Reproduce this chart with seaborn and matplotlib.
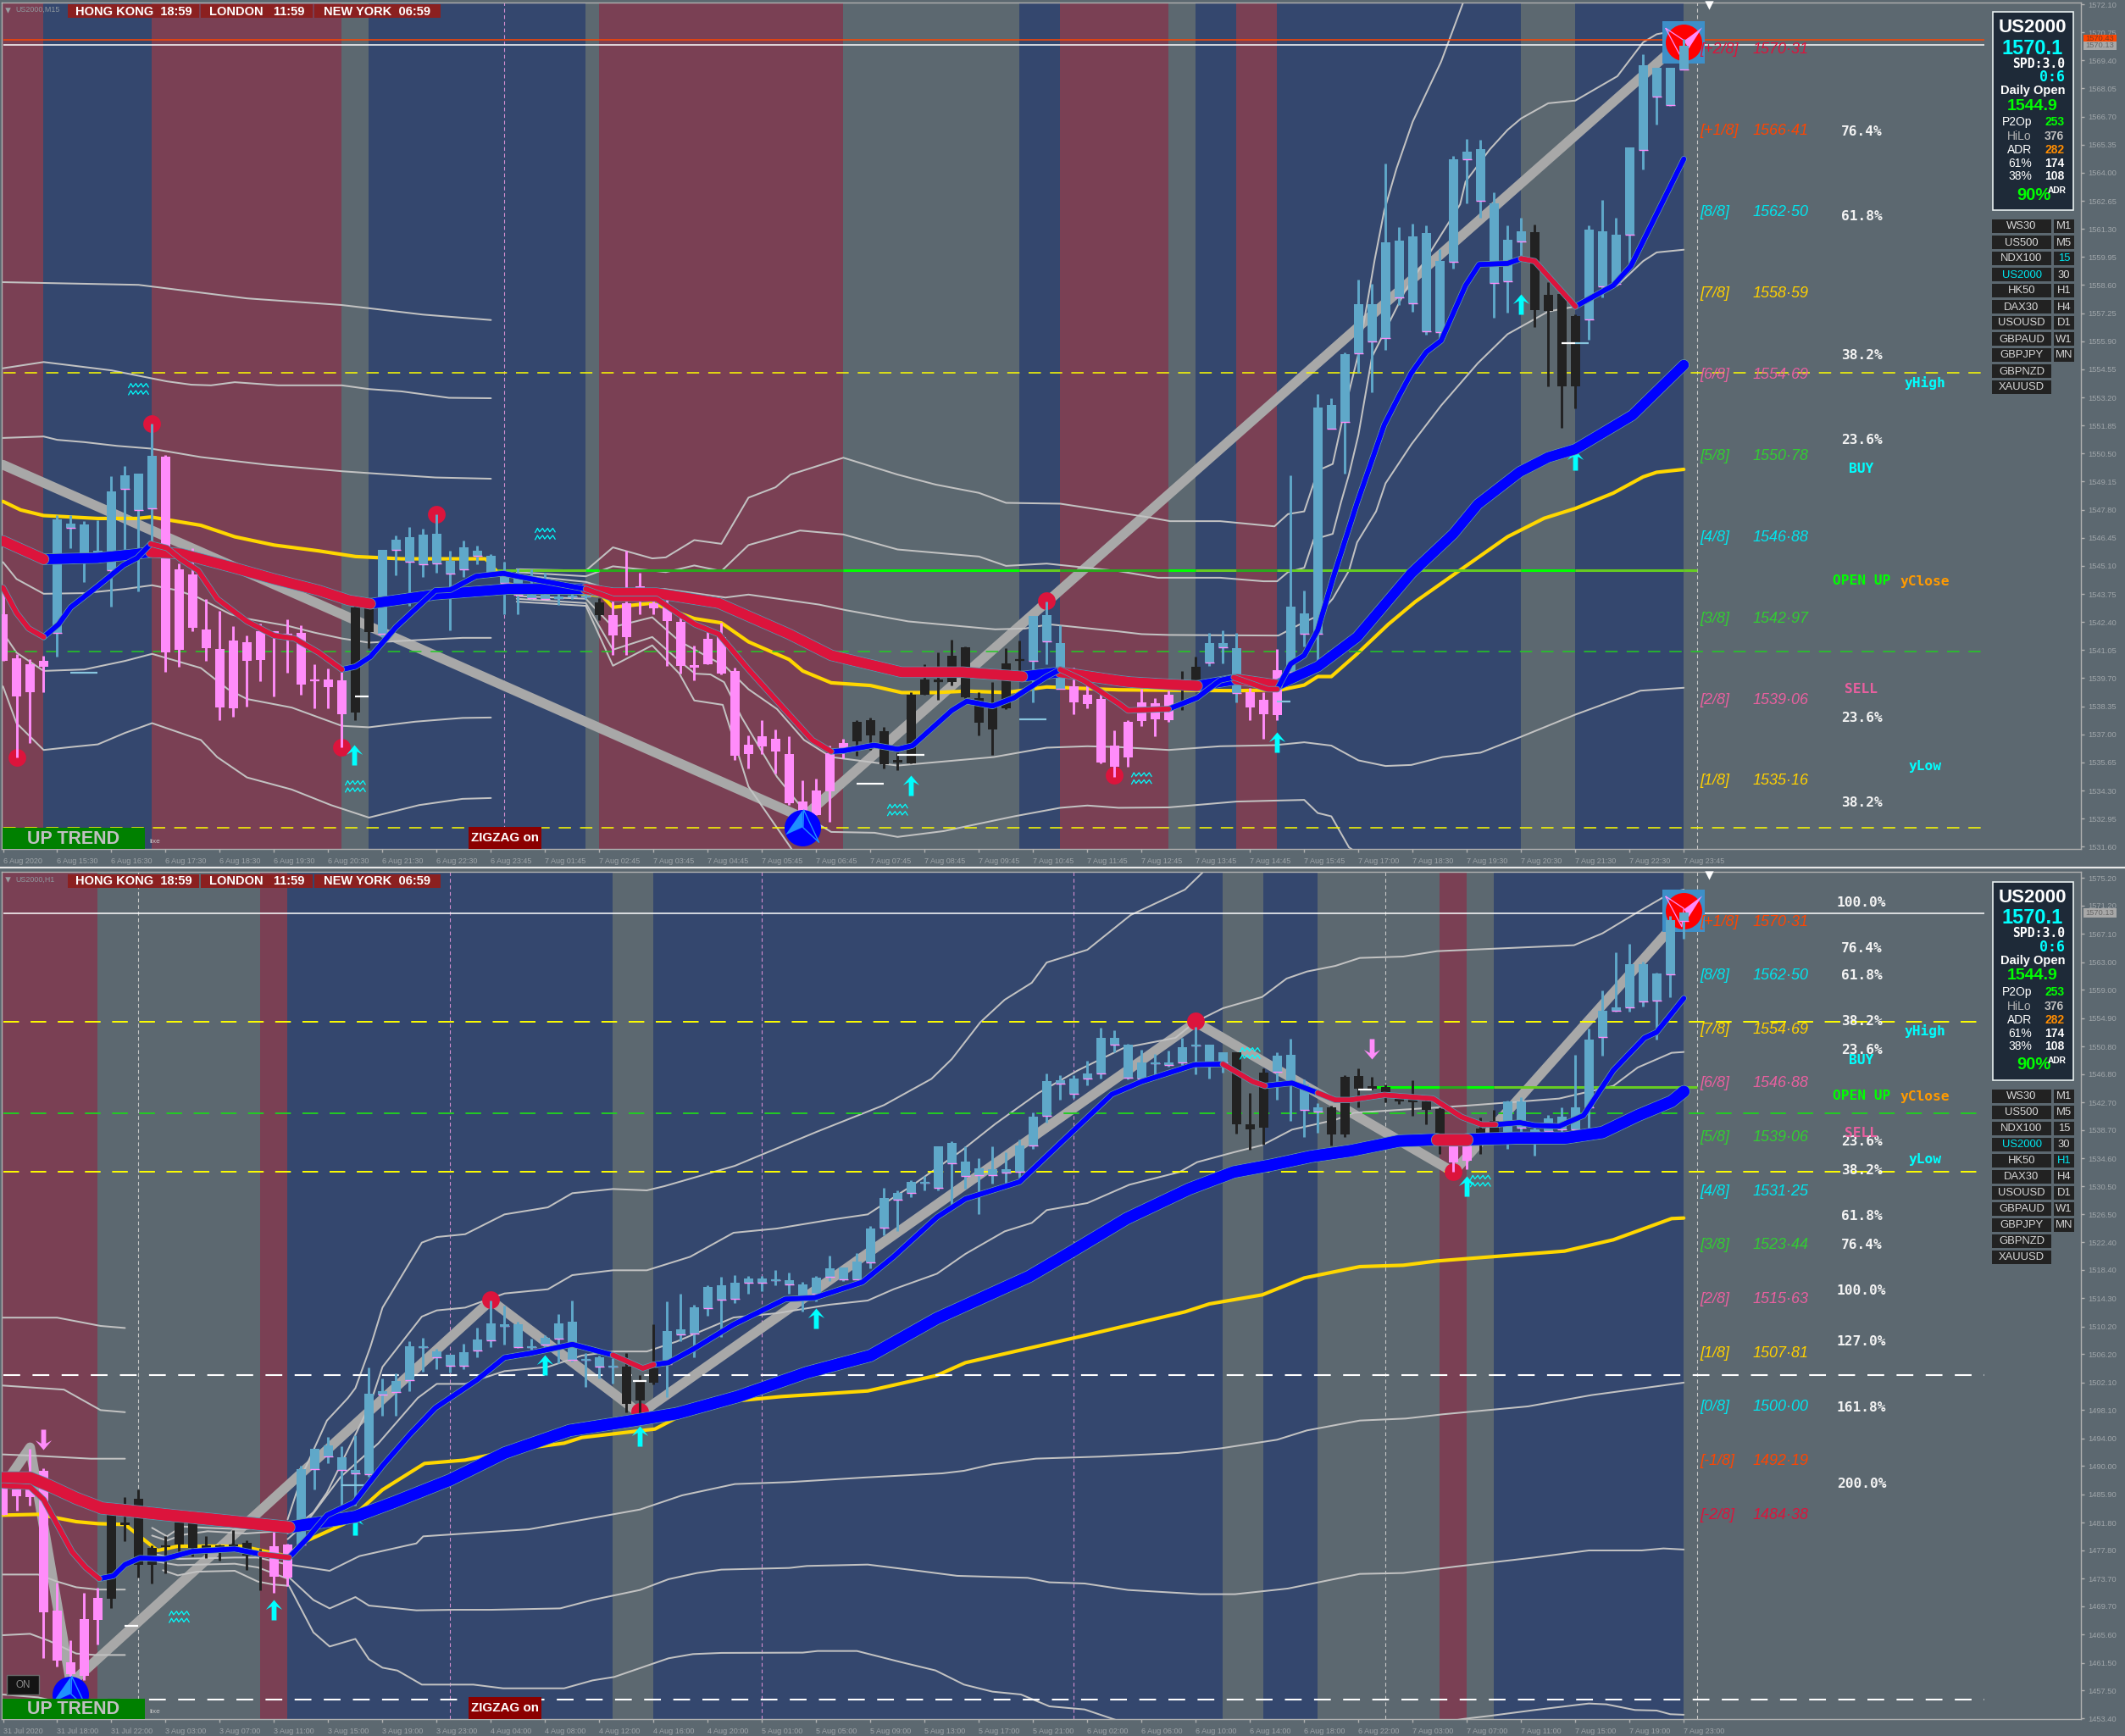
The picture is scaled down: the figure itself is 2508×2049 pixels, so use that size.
import numpy as np
import matplotlib
matplotlib.use("Agg")
import matplotlib.pyplot as plt
import matplotlib.patheffects as pe
from matplotlib.path import Path
from matplotlib.patches import Rectangle
from matplotlib import font_manager as fm
import seaborn as sns

W, H = 2508, 2049
BG = '#5c6870'; NAVY = '#34476e'; MAROON = '#7a4054'
PINK = '#ff8cfa'; SKY = '#5fa8c9'; BLACK = '#222222'
ENV = '#c2c2c2'; ZIG = '#a8a8a8'; CRIMSON = '#dc143c'; PURE = '#0000ff'; GOLD = '#ffd700'

sns.set_theme(style='dark', rc={'axes.facecolor': BG, 'figure.facecolor': BG})
names = {f.name for f in fm.fontManager.ttflist}
HAS_NARROW = 'Liberation Sans Narrow' in names
NARROW = 'Liberation Sans Narrow' if HAS_NARROW else 'Liberation Sans'
NS = 1.0 if HAS_NARROW else 0.84
SANS = 'Liberation Sans'
MONO = 'DejaVu Sans Mono'
plt.rcParams['font.family'] = [SANS, 'DejaVu Sans']

# ---------------------------------------------------------------- top panel (M15) candles
top_high = [1543.79,1540.87,1540.6,1540.77,1547.52,1547.56,1547.25,1547.29,1549.42,1549.9,
 1549.52,1551.93,1550.44,1545.21,1545.96,1543.52,1542.94,1542.2,1541.75,1542.32,
 1541.98,1542.53,1542.23,1540.36,1540.15,1540.01,1543.58,1543.11,1545.89,1546.57,
 1546.95,1546.88,1547.59,1545.82,1546.3,1546.07,1545.66,1545.28,1544.98,1544.94,
 1544.77,1544.06,1544.06,1544.06,1543.56,1543.52,1545.82,1544.77,1543.52,1543.45,
 1542.7,1541.28,1542.02,1542.36,1540.19,1536.93,1537.7,1537.23,1536.89,1534.79,
 1534.87,1536.48,1536.77,1537.68,1537.79,1537.34,1536.12,1539.03,1540.39,1540.94,
 1541.55,1541.23,1539.03,1539.51,1541.14,1541.5,1542.7,1543.38,1542.25,1540.19,
 1539.44,1539.03,1537.2,1537.68,1539.17,1538.76,1539.1,1540.04,1540.73,1541.89,
 1542.0,1541.86,1539.24,1539.03,1541.1,1549.46,1543.92,1553.36,1553.16,1555.38,
 1558.86,1558.66,1564.46,1561.39,1561.54,1561.46,1560.33,1564.79,1565.64,1565.6,
 1563.05,1561.46,1561.82,1561.5,1558.74,1558.16,1557.18,1561.46,1562.71,1561.85,
 1565.21,1569.68,1569.03,1569.06,1570.43]
top_body_hi = [1542.77,1540.66,1540.39,1540.53,1547.34,1547.12,1547.09,1545.82,1548.67,1549.45,
 1549.52,1550.41,1550.36,1544.93,1544.68,1542.06,1541.1,1541.51,1541.42,1541.95,
 1541.98,1541.82,1541.89,1539.63,1539.65,1539.58,1543.11,1543.11,1545.86,1546.37,
 1546.48,1546.6,1546.64,1545.33,1545.99,1545.82,1545.58,1544.6,1544.47,1543.72,
 1543.72,1543.65,1543.68,1543.65,1543.35,1542.73,1543.31,1544.13,1543.31,1543.11,
 1542.4,1540.35,1541.61,1541.68,1540.05,1536.5,1536.9,1536.78,1536.07,1533.79,
 1534.32,1536.11,1536.59,1537.61,1537.68,1537.16,1535.75,1538.9,1539.65,1539.65,
 1540.77,1541.18,1538.76,1538.29,1540.43,1540.62,1542.7,1542.74,1541.37,1539.31,
 1538.9,1538.7,1536.48,1537.61,1538.52,1538.49,1538.9,1539.6,1540.23,1541.41,
 1541.37,1541.14,1539.03,1538.65,1540.08,1543.14,1542.81,1552.73,1552.84,1555.28,
 1557.68,1557.69,1560.65,1560.73,1560.95,1561.11,1559.75,1564.66,1565.0,1565.13,
 1562.51,1560.76,1561.2,1561.14,1558.14,1558.16,1557.1,1561.26,1561.18,1561.01,
 1565.21,1569.15,1569.03,1569.06,1570.12]
top_body_lo = [1540.53,1538.83,1539.03,1540.26,1541.89,1546.91,1545.66,1545.69,1544.9,1548.81,
 1547.79,1547.86,1540.93,1541.07,1542.13,1541.14,1538.29,1538.25,1540.53,1540.57,
 1541.89,1541.78,1539.39,1539.6,1539.27,1537.98,1538.04,1541.93,1541.82,1545.88,
 1545.28,1545.18,1545.2,1544.71,1544.95,1545.59,1544.74,1544.3,1543.72,1543.56,
 1543.52,1543.56,1543.62,1543.61,1542.73,1541.75,1541.68,1544.03,1543.07,1542.43,
 1540.28,1540.22,1540.37,1539.94,1535.98,1536.05,1536.43,1536.18,1533.71,1533.2,
 1533.13,1534.26,1536.35,1536.66,1536.93,1535.55,1535.67,1535.61,1538.9,1539.55,
 1539.51,1538.79,1537.57,1537.23,1538.25,1540.56,1540.53,1541.48,1539.17,1538.52,
 1538.46,1535.64,1535.44,1535.88,1537.64,1537.74,1537.68,1539.55,1539.6,1540.46,
 1541.17,1538.97,1538.29,1537.95,1537.92,1539.99,1541.85,1541.82,1551.69,1552.03,
 1555.34,1555.9,1556.05,1557.99,1557.72,1556.37,1556.35,1559.7,1564.66,1562.67,
 1558.69,1558.8,1560.7,1557.41,1557.36,1553.75,1553.72,1556.93,1558.53,1558.66,
 1561.04,1565.11,1567.65,1567.26,1568.95]
top_low = [1540.53,1535.91,1536.59,1539.03,1540.73,1545.96,1544.33,1545.69,1543.15,1545.82,
 1543.89,1546.23,1540.0,1540.26,1541.95,1540.53,1537.68,1537.84,1538.33,1539.55,
 1538.83,1539.96,1538.9,1538.25,1538.25,1536.39,1537.68,1541.14,1541.68,1544.66,
 1543.18,1544.57,1544.76,1542.02,1544.57,1545.17,1544.74,1542.77,1542.77,1543.52,
 1543.52,1543.24,1543.52,1543.52,1542.5,1540.83,1540.8,1542.77,1542.77,1540.28,
 1539.92,1539.6,1540.37,1539.88,1535.78,1535.37,1536.05,1535.12,1533.6,1532.52,
 1533.13,1532.79,1535.84,1535.98,1536.25,1535.37,1535.26,1535.61,1538.9,1538.67,
 1539.35,1538.76,1536.97,1536.02,1538.22,1539.71,1538.52,1540.39,1539.17,1537.95,
 1538.25,1535.61,1534.96,1535.44,1537.41,1536.92,1537.6,1538.19,1539.6,1540.3,
 1540.42,1538.55,1537.68,1536.8,1537.68,1539.92,1541.23,1540.42,1551.69,1549.54,
 1554.37,1553.44,1555.49,1557.65,1557.3,1556.21,1556.06,1559.41,1562.51,1561.85,
 1557.05,1557.26,1559.83,1556.59,1553.72,1551.72,1552.66,1555.98,1557.99,1558.66,
 1559.44,1564.16,1566.33,1567.23,1568.95]
top_color_runs = [('p',4),('b',8),('p',14),('k',2),('b',16),('k',1),('p',18),('k',13),('b',3),
 ('p',8),('k',2),('b',3),('p',3),('b',18),('k',4),('b',8)]
top_band_edges = [-0.1,3,11,25,27,43,44,62,75,78,86,88,91,94,112,116,124]
top_band_kinds = ['m','n','m','g','n','g','m','g','n','m','g','n','m','n','g','n']

# ---------------------------------------------------------------- bottom panel (H1) candles
bot_high = [1486.85,1486.56,1492.5,1489.63,1473.06,1464.75,1471.62,1472.36,1483.08,1485.54,
 1486.64,1478.5,1479.81,1481.94,1481.77,1479.81,1478.58,1480.71,1479.2,1477.97,
 1480.42,1478.79,1490.04,1492.49,1494.21,1492.82,1494.46,1504.28,1502.72,1503.42,
 1508.13,1508.58,1507.02,1506.12,1507.72,1510.01,1513.98,1513.28,1510.91,1508.45,
 1508.99,1512.01,1513.98,1506.41,1506.0,1505.59,1506.41,1503.13,1510.5,1513.85,
 1515.0,1513.36,1516.23,1517.37,1517.66,1517.58,1517.58,1518.4,1517.99,1516.64,
 1517.54,1520.44,1518.77,1520.81,1524.74,1530.26,1529.94,1531.45,1532.07,1536.32,
 1537.02,1536.28,1534.56,1536.28,1535.46,1537.31,1541.19,1546.84,1546.64,1546.6,
 1548.76,1553.47,1553.14,1551.22,1550.28,1549.7,1550.2,1552.04,1553.67,1551.1,
 1549.99,1549.99,1544.06,1547.66,1549.99,1551.91,1546.02,1542.63,1542.22,1546.64,
 1547.66,1546.43,1545.29,1543.44,1545.9,1543.24,1542.01,1537.92,1537.72,1540.46,
 1541.6,1542.91,1543.44,1539.14,1540.91,1542.01,1549.58,1553.39,1558.91,1564.44,
 1565.66,1563.09,1561.45,1569.71,1570.16]
bot_body_hi = [1486.85,1486.56,1486.77,1489.3,1469.09,1461.52,1467.82,1470.89,1483.08,1481.85,
 1485.25,1478.17,1478.5,1481.85,1481.77,1478.5,1478.5,1478.58,1478.91,1477.56,
 1478.38,1478.58,1489.51,1492.49,1492.99,1491.27,1489.43,1500.47,1500.8,1502.31,
 1507.35,1507.35,1506.61,1506.12,1506.49,1508.33,1510.62,1510.5,1510.5,1507.39,
 1508.58,1510.62,1510.91,1505.51,1505.79,1504.52,1504.36,1502.31,1504.16,1509.56,
 1509.8,1512.95,1515.94,1516.23,1516.51,1517.17,1517.17,1517.05,1516.92,1516.35,
 1517.25,1518.6,1518.77,1519.58,1524.41,1528.83,1529.53,1531.17,1531.16,1536.32,
 1536.81,1534.11,1533.09,1533.01,1533.01,1536.49,1540.58,1545.78,1545.9,1546.19,
 1546.84,1552.04,1552.04,1551.01,1548.48,1548.48,1548.48,1550.69,1551.01,1551.1,
 1549.99,1549.99,1539.47,1547.0,1549.46,1549.58,1545.28,1542.01,1542.01,1546.43,
 1546.51,1545.0,1544.88,1543.24,1543.24,1542.83,1541.68,1536.49,1536.49,1538.94,
 1539.97,1542.83,1542.83,1538.74,1540.37,1540.62,1542.01,1551.83,1555.92,1556.42,
 1562.68,1562.68,1561.37,1569.1,1570.16]
bot_body_lo = [1482.88,1485.66,1485.46,1468.84,1461.8,1459.84,1459.55,1467.66,1470.81,1481.45,
 1475.63,1475.72,1478.34,1478.58,1478.17,1478.17,1478.17,1478.5,1477.03,1477.35,
 1474.0,1473.79,1478.58,1489.51,1491.35,1489.43,1488.89,1488.81,1500.39,1500.68,
 1502.44,1507.23,1505.75,1504.48,1504.53,1506.69,1508.17,1510.34,1507.23,1507.23,
 1507.63,1508.41,1505.38,1505.34,1504.36,1504.36,1499.04,1499.45,1502.11,1504.77,
 1509.07,1509.19,1512.87,1514.1,1514.18,1516.56,1516.56,1516.96,1516.31,1514.59,
 1515.0,1517.37,1517.05,1517.05,1519.5,1524.49,1528.59,1529.53,1531.1,1530.35,
 1533.91,1531.99,1532.19,1532.19,1532.48,1532.6,1536.49,1540.7,1545.37,1543.98,
 1546.19,1546.84,1551.01,1546.23,1546.19,1548.4,1548.07,1548.44,1550.89,1548.35,
 1548.48,1539.56,1538.82,1539.07,1547.09,1545.69,1541.6,1541.4,1538.0,1538.08,
 1544.67,1544.63,1544.14,1542.83,1542.75,1541.6,1537.92,1534.03,1534.24,1537.92,
 1538.0,1537.92,1539.06,1538.53,1538.53,1538.74,1538.74,1542.01,1552.12,1556.01,
 1556.42,1557.36,1557.44,1561.24,1569.02]
bot_low = [1482.88,1483.49,1484.31,1462.13,1460.99,1454.85,1458.94,1464.18,1469.37,1479.11,
 1473.79,1472.98,1474.41,1477.68,1476.94,1476.66,1476.25,1478.38,1474.9,1472.03,
 1471.62,1472.65,1478.38,1486.56,1490.45,1484.11,1484.31,1488.4,1497.32,1497.32,
 1500.8,1503.62,1504.07,1503.54,1504.07,1505.79,1507.23,1507.63,1507.1,1506.82,
 1507.02,1504.85,1505.18,1501.5,1502.73,1501.91,1497.73,1497.4,1501.78,1499.94,
 1508.04,1505.71,1511.81,1508.66,1513.57,1515.0,1515.29,1516.23,1515.0,1512.34,
 1513.85,1516.84,1516.84,1517.05,1518.68,1523.39,1524.08,1529.0,1529.98,1529.98,
 1527.77,1530.14,1526.46,1530.96,1530.96,1531.78,1535.96,1539.76,1543.12,1543.32,
 1545.2,1546.19,1549.99,1546.02,1546.02,1546.43,1547.82,1548.15,1546.72,1546.19,
 1547.05,1538.12,1535.87,1536.61,1543.12,1540.05,1537.72,1538.33,1536.49,1537.72,
 1542.01,1544.55,1542.75,1542.42,1540.78,1539.56,1535.26,1532.6,1533.01,1535.26,
 1537.51,1535.96,1538.33,1534.97,1538.33,1538.33,1538.53,1538.74,1549.5,1555.8,
 1555.84,1556.62,1551.75,1557.97,1566.36]
bot_color_runs = [('p',8),('k',12),('p',2),('b',24),('k',3),('b',42),('k',3),('b',4),('k',9),('p',2),('k',2),('b',14)]
bot_band_edges = [-0.1,7,19,21,45,48,90,93,97,106,108,110,124]
bot_band_kinds = ['m','g','m','n','g','n','g','n','g','m','g','n']

# ---------------------------------------------------------------- top panel lines
top_zig_x = [0,59,124]
top_zig_y = [1549.96,1533.0,1570.4]

top_z_x = [0,10,18,25,31,36]
top_z_y = [1558.74,1558.61,1557.96,1557.64,1557.18,1556.92]
top_a_x = [0,3,8,12.1,13.9,15.35,17.1,20.3,25,27,29.4,32.9,36]
top_a_y = [1554.6,1554.9,1554.5,1553.97,1553.81,1553.78,1553.93,1553.78,1553.78,1553.6,1553.49,1553.18,1553.16]
top_b_x = [0,3,4,6,8.4,10.9,14.6,19.5,25,27,31.9,36]
top_b_y = [1551.25,1551.32,1551.16,1551.05,1550.87,1550.74,1550.33,1549.96,1549.65,1549.56,1549.35,1549.29]
top_c_x = [0,1,3,6,9,11,12.9,14.4,16.8,18,21,23,25,27,30.2,33.9,36]
top_c_y = [1545.28,1544.47,1543.76,1543.79,1543.99,1544.17,1543.92,1543.58,1542.77,1542.56,1542.22,1541.89,1541.61,1541.41,1541.52,1541.64,1541.64]
top_d_x = [0,1,3,6,9,11,14.6,16.6,18,21.3,25,27,30.4,33.9,36]
top_d_y = [1541.89,1540.93,1540.05,1540.12,1540.53,1540.87,1540.19,1539.17,1538.7,1538.29,1537.41,1537.34,1537.61,1537.79,1537.81]
top_e_x = [0,1,3,5,7,9,11,14.6,15.8,18,21.3,24.2,27,30.7,33.9,36]
top_e_y = [1539.31,1537.54,1536.25,1536.39,1536.52,1537.07,1537.54,1536.73,1535.91,1534.93,1534.35,1533.6,1533.0,1533.6,1533.9,1533.94]

top_u3_x = [37.9,43,45,47.9,48.9,51,53,55,57,58.1,62,66,68.8,72,74,78,82.3,84.4,86.1,89.8,93.8,94.8,96,96.7,97,97.3,98.1,99,100,101.2,101.9,102.8,104,106.1,107.7,108.4]
top_u3_y = [1544.94,1544.87,1545.99,1545.46,1545.51,1546.34,1546.16,1548.38,1548.88,1549.49,1550.3,1549.49,1549.01,1548.61,1548.13,1548.09,1547.66,1547.45,1547.25,1547.25,1547.0,1547.59,1547.72,1549.08,1549.49,1549.77,1550.0,1552.66,1555.3,1559.83,1562.17,1564.19,1566.45,1569.34,1572.14,1573.5]
top_u2_x = [37.9,43,45,48.9,51,53,55,58.8,62,66,72,74,77,82.3,85.2,89.8,93,94,94.8,96,96.7,98.1,98.7,99.3,100,101,103.4,104.8,106.6,107.5,107.9,109.7,111,112,114,116,119.1,121,122,124]
top_u2_y = [1544.8,1544.6,1545.08,1544.8,1545.12,1544.85,1546.1,1546.8,1546.61,1545.89,1545.55,1545.1,1545.21,1544.85,1544.53,1544.53,1544.36,1544.36,1544.8,1545.01,1546.37,1546.64,1548.13,1549.49,1551.41,1555.15,1558.27,1559.67,1561.54,1562.48,1563.57,1565.13,1566.06,1566.61,1567.34,1567.47,1568.64,1570.27,1570.66,1570.9]
top_u1_x = [37.9,43,45,48.8,53.3,55,60.2,62.2,66.8,73.2,75.4,77.2,82.3,84,86,94.1,95.7,97,98.1,99.3,99.9,101.3,102,103.9,106.1,108.8,111,114,116,119.1,121,122,124]
top_u1_y = [1544.67,1544.33,1543.92,1543.99,1543.58,1543.72,1543.24,1542.97,1542.43,1542.05,1542.09,1542.29,1541.95,1541.82,1541.78,1541.75,1542.3,1542.7,1543.52,1544.87,1546.23,1547.72,1549.07,1550.94,1552.81,1554.84,1556.24,1557.33,1557.57,1558.58,1559.75,1560.17,1560.3]
top_l1_x = [37.9,43,45,47.9,49.9,53.3,55,57.1,59.1,61.1,66,73.1,77,80,82.3,86,89.8,93.8,96,98,100,102,103.9,106.2,109,111.9,116,120.8,124]
top_l1_y = [1543.65,1543.52,1542.16,1542.63,1541.48,1540.26,1539.17,1538.22,1536.73,1535.91,1535.5,1535.91,1536.36,1536.43,1536.39,1536.25,1536.43,1536.48,1536.62,1536.46,1535.75,1535.48,1535.53,1535.91,1536.12,1536.86,1537.95,1539.1,1539.24]
top_l2_x = [37.9,43,45,47.9,49.9,51.05,52.2,53.2,54.5,57.1,59.7,61.1,64.3,66,69.4,74.6,78,80,82.3,86,91,96,97,98,99.3,99.9]
top_l2_y = [1543.52,1543.31,1541.07,1541.68,1540.53,1539.92,1539.88,1539.51,1537.81,1534.96,1532.86,1532.31,1532.27,1532.07,1532.35,1533.06,1533.47,1533.58,1533.47,1533.49,1533.77,1533.85,1533.22,1533.06,1531.57,1531.3]
top_l3_x = [37.9,43,45,47.9,49.9,51,53.1,55,58.1,59.1]
top_l3_y = [1543.38,1543.18,1540.3,1541.28,1539.92,1538.63,1538.42,1534.49,1531.57,1530.5]

top_slow_x = [0,3,6.95,9.67,10.9,13.1,17.1,20,23.3,25.5,27.1,31.9,37.3,43,45,48.2,52.8,58,61.1,66.3,70.8,75.2,78,82.3,83.2,88.1,91,94,97,99.9,103.9,107,108.8,111.9,114,116,120.2,124]
top_slow_y = [1546.3,1545.42,1545.48,1545.66,1545.76,1545.69,1545.0,1544.47,1543.92,1543.45,1543.28,1543.72,1543.99,1543.99,1543.79,1543.79,1543.31,1541.82,1540.8,1539.99,1539.99,1539.78,1539.99,1539.58,1539.51,1539.33,1539.65,1539.37,1540.26,1541.68,1544.74,1546.64,1548.06,1549.62,1550.32,1550.71,1552.34,1554.76]
top_slow_red = [(0,3),(10.9,27.1),(43,75.2),(78,88.1),(91,94)]
top_fast_x = [0,1,1.9,3,4.1,5,7,8.9,9.9,10.9,12.1,13.1,14.4,15.8,18,20,21.5,23.3,25,26,27.1,29,31.9,33,34.9,36.9,38.5,40.15,43,45,48.2,49.9,51.05,52.8,55,58,59.7,61.1,62,64.25,66,67.1,70,71.1,73,74.6,77,78,79.75,82.3,83,86,88.1,89.8,90.8,93.3,94,95,96,97,98.1,99.9,101.9,103,103.9,105,106.1,107.9,108.9,111,112,113,116,118.8,120.1,124]
top_fast_y = [1544.06,1542.84,1542.09,1541.68,1542.29,1543.11,1544.13,1545.14,1545.48,1546.16,1545.96,1545.42,1544.87,1543.52,1542.43,1541.75,1541.61,1540.93,1540.12,1540.26,1540.73,1542.16,1543.92,1543.95,1544.6,1544.74,1544.53,1544.33,1543.99,1543.52,1543.52,1542.77,1542.29,1541.82,1540.12,1537.95,1536.73,1536.18,1536.21,1536.48,1536.29,1536.46,1538.15,1538.59,1538.36,1538.76,1539.78,1540.12,1539.58,1538.49,1538.15,1538.22,1538.76,1539.6,1539.74,1539.17,1539.17,1540.39,1540.8,1542.02,1544.47,1548.13,1551.88,1553.28,1554.37,1555.38,1555.93,1558.58,1559.59,1559.64,1559.87,1559.75,1557.57,1558.58,1559.52,1564.66]
top_fast_red = [(0,3),(10.9,25),(43,61.1),(78,86),(90.8,94),(112,116)]
top_yellow_x = [0,1.3,3,7,9.9,10.9,14.6,17.1,20,23.3,26,29.4,35.6,37.3,44.2,45,47.9,51,53,55,58,59,61.1,64,66.3,68.8,71.1,74,77,82.3,91,94.3,96,97,98,99.9,102.2,104.2,107.9,111,113.7,116,118.8,121,122,124]
top_yellow_y = [1548.2,1547.79,1547.52,1547.38,1547.38,1547.45,1547.05,1546.5,1546.1,1545.82,1545.55,1545.44,1545.44,1544.22,1543.65,1543.11,1543.31,1542.57,1542.36,1541.45,1540.6,1540.05,1539.48,1539.35,1539.01,1539.01,1539.08,1539.01,1539.28,1539.14,1539.1,1539.14,1539.37,1539.78,1539.78,1540.87,1542.29,1543.38,1545.08,1546.5,1547.39,1547.86,1548.6,1549.38,1549.6,1549.74]

# ---------------------------------------------------------------- bottom panel lines
bot_zig_x = [0,2,5,36,47,88,107,124]
bot_zig_y = [1487.0,1492.7,1458.5,1514.0,1497.6,1554.3,1532.6,1570.0]

bot_p_x = [0,4,7.2,9]; bot_p_y = [1511.5,1511.5,1510.3,1510.0]
bot_q_x = [0,4.5,7.2,9]; bot_q_y = [1501.66,1501.07,1498.1,1497.8]
bot_a_x = [0,2.6,6.5,9]; bot_a_y = [1491.68,1491.47,1491.06,1491.06]
bot_b_x = [0,2.6,4,5.4,7,9]; bot_b_y = [1474.28,1474.28,1473.26,1472.44,1472.1,1472.1]
bot_c_x = [0,2,3.4,5.4,6.8,9]; bot_c_y = [1465.49,1465.69,1464.67,1462.83,1462.62,1462.62]
bot_d_x = [0,2.6,3.5]; bot_d_y = [1456.89,1456.48,1456.07]
bot_c1_x = [11,12.1,13.2,15.1,17.9,21]; bot_c1_y = [1481.04,1479.81,1481.24,1481.04,1480.83,1481.86]
bot_c2_x = [11,12.1,13.2,15.1,17.9,21]; bot_c2_y = [1479.93,1479.2,1480.01,1480.55,1480.22,1480.63]
bot_c3_x = [11.4,12.9,17.1,18.8,21]; bot_c3_y = [1477.15,1476.54,1476.74,1476.74,1475.72]
bot_c4_x = [11.4,12.9,17.1,18.8,21]; bot_c4_y = [1476.13,1475.64,1475.84,1475.31,1473.67]
bot_c5_x = [11.8,12.9,14.3,17.1,18.8,19.9,21]; bot_c5_y = [1474.9,1474.16,1474.69,1474.82,1473.26,1472.85,1472.65]

bot_l1_x = [21,22.1,23.9,25.45,26,27.1,28,30.9,32,34.1,37,40.2,42,45,47.5,48.8,54,60,65,68.5,70,72.1,73.9,75.9,77,80,83.2,87.2,88.5]
bot_l1_y = [1482.26,1488.81,1496.59,1499.86,1501.29,1507.23,1512.95,1522.37,1523.18,1523.59,1526.46,1527.48,1529.53,1530.14,1529.94,1530.55,1533.5,1538.4,1542.3,1546.1,1548.97,1554.29,1557.56,1560.02,1562.96,1564.8,1569.84,1573.52,1576.0]
bot_l2_x = [21,22.9,23.9,26,27.1,28,30.9,32,34.1,37,40.2,42,45,47.5,50.7,53.9,57.1,60.9,63.8,65.7,67,70.7,73.2,76.4,79.3,82.7,86.5,87.9,90,92.9,94.7,96.2,98.3,100.1,103.3,105.8,115.9,118,120.6,123.1,124]
bot_l2_y = [1480.22,1483.29,1486.15,1494.54,1499.04,1504.36,1511.65,1512.55,1512.95,1515.0,1515.61,1517.66,1518.36,1518.36,1520.32,1523.8,1524.41,1525.64,1526.46,1528.91,1530.55,1535.67,1539.56,1544.06,1547.33,1550.6,1552.04,1554.29,1556.33,1557.97,1560.63,1561.65,1562.47,1563.62,1563.82,1564.6,1565.46,1567.18,1570.25,1573.11,1573.52]
bot_l3_x = [21,22.4,24.9,27.7,30.6,32,34.1,37,40.2,42.7,45,47.5,49.7,53.9,57.1,60.9,63.8,65.7,68.9,71,73.9,75.9,77,80,83.1,86.8,88.1,90.8,92.9,95.1,98.3,99.7,103,108,114.8,118.8,120.6,123.1,124]
bot_l3_y = [1479.4,1481.85,1488.4,1493.3,1499.86,1501.9,1501.9,1503.75,1504.36,1506.0,1506.6,1506.6,1508.04,1511.52,1512.14,1513.36,1513.98,1515.61,1517.86,1520.73,1524.0,1525.23,1527.08,1528.1,1530.76,1532.6,1534.03,1535.46,1536.49,1538.74,1540.17,1541.19,1541.6,1542.22,1543.24,1545.08,1547.74,1549.87,1549.99]
bot_l4_x = [21.1,24.1,26.3,30.5,31,34.7,38.8,43.5,47,50.1,54,58,63.5,69.3,70.9,73,76.2,80.9,86.7,89.9,94,96.2,100.1,103.5,106.2,109.8,112.5,117.2,124]
bot_l4_y = [1475.72,1474.82,1476.95,1478.79,1479.81,1480.3,1480.83,1482.47,1483.7,1485.75,1487.39,1487.67,1488.33,1488.94,1489.31,1490.25,1491.07,1491.36,1491.89,1492.58,1493.81,1495.16,1496.59,1496.88,1497.49,1498.15,1498.64,1500.28,1502.08]
bot_l5_x = [21.1,22.9,24.1,26,27,29.1,30.5,33.3,36,41.1,43.5,47,49.1,51.2,53,58,59.3,63.8,67.2,70.4,75.6,77.2,79.8,83,88.3,90.9,94.8,100.1,103.3,107.2,113,117,120.9,122.5,124]
bot_l5_y = [1473.88,1470.6,1469.37,1471.01,1469.78,1469.37,1469.09,1469.17,1469.17,1469.37,1470.6,1472.04,1473.6,1474.5,1474.99,1475.23,1475.52,1475.72,1474.9,1474.09,1473.8,1473.15,1472.98,1472.04,1471.43,1471.43,1472.25,1474.37,1474.5,1475.44,1476.75,1477.77,1477.77,1478.06,1477.9]
bot_l6_x = [21.1,22.9,24.1,26,27,28,29.1,30.9,34.7,36.9,41.4,43.5,45.1,49.1,50.9,53,59,60.1,63,66.2,68.8,70.9,73,75.1,77.2,79.8,81.9,84]
bot_l6_y = [1472.65,1465.9,1463.85,1464.95,1462.01,1460.78,1460.37,1458.33,1458.33,1457.79,1457.79,1458.94,1459.44,1462.14,1462.75,1462.92,1462.96,1463.2,1463.2,1461.61,1460.38,1458.33,1457.31,1456.9,1455.18,1454.73,1453.34,1452.0]
bot_l7_x = [106,107.7,109.8,113,117,118.3,120.4,122,123,124]
bot_l7_y = [1452.8,1453.34,1453.83,1454.65,1455.59,1455.47,1454.65,1454.57,1454.04,1453.96]

bot_slow_x = [0,2,3.4,5.4,7.3,9,12.3,16.5,21.1,23.5,26,28.8,33,37,41.8,46.5,49.7,54.2,59.3,64,68.9,75.7,78.9,82.9,87.5,90.8,93.6,96.5,99.4,103,105.8,108,111.6,115.2,118,120.6,123.1,124]
bot_slow_y = [1488.28,1488.28,1487.17,1485.33,1483.9,1483.57,1482.88,1482.06,1481.12,1481.86,1482.67,1484.72,1488.0,1491.88,1495.15,1496.59,1497.61,1500.06,1503.54,1506.0,1511.4,1517.46,1521.14,1525.85,1530.14,1532.6,1533.62,1534.85,1535.67,1537.1,1537.31,1537.31,1537.51,1537.51,1538.33,1540.78,1542.83,1544.26]
bot_slow_red = [(0,21.1),(105.8,108)]
bot_fast_x = [0,2,3,5.1,6.1,7.1,8.15,9,10.1,11.9,14,17.1,19,21.1,22.4,23.9,25.9,28,30,31.9,35,37,38.9,42,45,47.2,48,49.1,51,53.9,57.7,59.9,63.4,65.7,68.9,71,75,81.8,84,87.9,90,92.2,93.1,95.1,97,98.3,99.4,101.9,105.5,107.6,109.1,110.1,111.9,113,114.8,116.6,118.8,121.1,122,124]
bot_fast_y = [1487.17,1486.97,1485.13,1477.56,1475.31,1473.67,1474.08,1475.72,1476.66,1476.54,1477.64,1477.97,1477.23,1476.74,1479.4,1482.88,1484.72,1490.04,1494.54,1498.43,1502.52,1505.71,1506.33,1507.63,1506.08,1504.16,1504.69,1504.98,1507.02,1510.5,1514.18,1514.39,1516.64,1520.32,1526.05,1528.71,1531.17,1543.85,1545.7,1548.15,1548.23,1545.7,1545.08,1545.49,1544.06,1543.04,1543.04,1543.77,1543.24,1540.58,1539.47,1539.47,1539.76,1539.35,1539.23,1540.78,1547.33,1552.04,1552.86,1557.77]
bot_fast_red = [(0,7.1),(19,21.1),(45,48),(90,93.1),(97,110.1)]
bot_yellow_x = [0,2.6,4,5.4,7,9,11.4,12.9,17.6,21,22,25.2,28,31.1,34.1,37.6,41.4,42.7,48.1,49.7,54.2,57.4,63.8,68.9,71,80,87.2,89,92.9,96,100.1,103.3,105.8,115.2,118.8,123.1,124]
bot_yellow_y = [1482.88,1483.0,1482.47,1481.94,1481.65,1481.53,1477.76,1478.38,1478.38,1476.95,1478.79,1481.65,1486.56,1490.37,1490.86,1492.29,1493.31,1494.13,1495.36,1497.0,1499.45,1500.06,1500.88,1503.13,1504.97,1509.0,1512.34,1513.49,1514.8,1517.25,1518.89,1519.09,1519.71,1521.14,1522.78,1525.85,1525.93]

# ---------------------------------------------------------------- marks
top_dot_x = [11,1,25,32,77,82]
top_dot_y = [1551.93,1535.91,1536.39,1547.59,1543.42,1535.03]
bot_dot_x = [36,47,88,107]
bot_dot_y = [1514.06,1497.94,1554.49,1532.68]
top_up_x = [25.9,67,112,116,94]
top_up_y = [1536.02,1534.53,1557.7,1550.2,1536.63]
bot_up_x = [20,26,40,47,60,108]
bot_up_y = [1469.2,1481.4,1504.6,1494.4,1511.4,1530.5]
bot_down_x = [3,101]
bot_down_y = [1493.9,1550.4]
top_wave_x = [10,26,40,66,84]
top_wave_y = [1553.6,1534.5,1546.64,1533.37,1534.89]
bot_wave_x = [13,92,109]
bot_wave_y = [1468.15,1549.8,1531.3]
top_white_dash = [(26,27,1538.83),(66,68,1536.02),(63,65,1534.63),(115,116,1555.82)]
top_sky_dash = [(5,7,1539.98),(75,77,1537.72),(94,95,1538.59),(116,117,1555.82)]
bot_white_dash = [(9,10,1466.9),(100,101,1544.6),(46.5,47.5,1502.3)]
bot_sky_dash = [(25,27,1487.26)]

# ---------------------------------------------------------------- levels and labels
top_levels = ['[+2/8]','[+1/8]','[8/8]','[7/8]','[6/8]','[5/8]','[4/8]','[3/8]','[2/8]','[1/8]']
top_level_vals = [1570.31,1566.41,1562.50,1558.59,1554.69,1550.78,1546.88,1542.97,1539.06,1535.16]
top_level_cols = ['#dc143c','#ff4500','#00e5ee','#ffd000','#e8609f','#32cd32','#00e5ee','#32cd32','#e8609f','#ffd000']
bot_levels = ['[+1/8]','[8/8]','[7/8]','[6/8]','[5/8]','[4/8]','[3/8]','[2/8]','[1/8]','[0/8]','[-1/8]','[-2/8]']
bot_level_vals = [1570.31,1562.50,1554.69,1546.88,1539.06,1531.25,1523.44,1515.63,1507.81,1500.00,1492.19,1484.38]
bot_level_cols = ['#ff4500','#00e5ee','#ffd000','#e8609f','#32cd32','#00e5ee','#32cd32','#e8609f','#ffd000','#00e5ee','#ff4500','#dc143c']

top_fib_txt = ['76.4%','61.8%','38.2%','23.6%','23.6%','38.2%']
top_fib_px = [155,256,420,520,847,947]
bot_fib_txt = ['100.0%','76.4%','61.8%','38.2%','23.6%','23.6%','38.2%','61.8%','76.4%','100.0%','127.0%','161.8%','200.0%']
bot_fib_px = [1065,1119,1152,1206,1240,1348,1381,1435,1469,1523,1584,1662,1752]

top_yticks = [1572.10,1570.75,1569.40,1568.05,1566.70,1565.35,1564.00,1562.65,1561.30,1559.95,1558.60,1557.25,1555.90,1554.55,1553.20,1551.85,1550.50,1549.15,1547.80,1546.45,1545.10,1543.75,1542.40,1541.05,1539.70,1538.35,1537.00,1535.65,1534.30,1532.95,1531.60]
bot_yticks = [1575.20,1571.20,1567.10,1563.00,1559.00,1554.90,1550.80,1546.80,1542.70,1538.70,1534.60,1530.50,1526.50,1522.40,1518.40,1514.30,1510.20,1506.20,1502.10,1498.10,1494.00,1490.00,1485.90,1481.80,1477.80,1473.70,1469.70,1465.60,1461.50,1457.50,1453.40]
top_xlabels = ['6 Aug 2020','6 Aug 15:30','6 Aug 16:30','6 Aug 17:30','6 Aug 18:30','6 Aug 19:30','6 Aug 20:30','6 Aug 21:30','6 Aug 22:30','6 Aug 23:45',
 '7 Aug 01:45','7 Aug 02:45','7 Aug 03:45','7 Aug 04:45','7 Aug 05:45','7 Aug 06:45','7 Aug 07:45','7 Aug 08:45','7 Aug 09:45','7 Aug 10:45','7 Aug 11:45',
 '7 Aug 12:45','7 Aug 13:45','7 Aug 14:45','7 Aug 15:45','7 Aug 17:00','7 Aug 18:30','7 Aug 19:30','7 Aug 20:30','7 Aug 21:30','7 Aug 22:30','7 Aug 23:45']
bot_xlabels = ['31 Jul 2020','31 Jul 18:00','31 Jul 22:00','3 Aug 03:00','3 Aug 07:00','3 Aug 11:00','3 Aug 15:00','3 Aug 19:00','3 Aug 23:00','4 Aug 04:00','4 Aug 08:00',
 '4 Aug 12:00','4 Aug 16:00','4 Aug 20:00','5 Aug 01:00','5 Aug 05:00','5 Aug 09:00','5 Aug 13:00','5 Aug 17:00','5 Aug 21:00','6 Aug 02:00','6 Aug 06:00','6 Aug 10:00',
 '6 Aug 14:00','6 Aug 18:00','6 Aug 22:00','7 Aug 03:00','7 Aug 07:00','7 Aug 11:00','7 Aug 15:00','7 Aug 19:00','7 Aug 23:00']
symbols = ['WS30','US500','NDX100','US2000','HK50','DAX30','USOUSD','GBPAUD','GBPJPY','GBPNZD','XAUUSD']
periods = ['M1','M5','15','30','H1','H4','D1','W1','MN']
info_labels = ['P2Op','HiLo','ADR','61%','38%']
info_values = ['253','376','282','174','108']
info_label_cols = ['white','#b4b4b4','white','white','white']
info_value_cols = ['#00ff00','#c0c0c0','#ff8c00','white','white']

# ---------------------------------------------------------------- helpers
UP_ARROW = [(0,1),(.8,.05),(.24,.36),(.24,-1),(-.24,-1),(-.24,.36),(-.8,.05),(0,1)]
DOWN_ARROW = [(x,-y) for x,y in UP_ARROW]
WAVE = Path([(-1,.1),(-.75,.55),(-.55,.2),(-.25,.55),(-.05,.2),(.25,.55),(.45,.2),(.75,.55),(1,.15),
             (-1,-.6),(-.75,-.15),(-.55,-.5),(-.25,-.15),(-.05,-.5),(.25,-.15),(.45,-.5),(.75,-.15),(1,-.55)],
            [1]+[2]*8+[1]+[2]*8)
band_col = {'m':MAROON,'n':NAVY,'g':BG}
green_on = {'m':'#2aa81e','n':'#66cc22','g':'#00ff00'}
cand_col = {'p':PINK,'b':SKY,'k':BLACK}


def sline(ax, xs, ys, color, lw, z, **kw):
    sns.lineplot(x=list(xs), y=list(ys), ax=ax, color=color, linewidth=lw, sort=False,
                 estimator=None, errorbar=None, legend=False, zorder=z, **kw)


def ma(ax, xs, ys, reds, lw, z):
    xs = np.asarray(xs, float); ys = np.asarray(ys, float)
    mids = (xs[:-1] + xs[1:]) / 2
    isred = np.array([any(a <= m <= b for a, b in reds) for m in mids])
    start = 0
    fx = [pe.withStroke(linewidth=lw + 1.4, foreground='#5f8ea8'), pe.Normal()]
    for k in range(1, len(mids) + 1):
        if k == len(mids) or isred[k] != isred[start]:
            sline(ax, xs[start:k+1], ys[start:k+1], CRIMSON if isred[start] else PURE, lw, z + (0.1 if isred[start] else 0),
                  solid_capstyle='round', solid_joinstyle='round', path_effects=fx)
            start = k


def candles(ax, high, bhi, blo, low, runs):
    codes = [c for c, n in runs for _ in range(n)]
    x = np.arange(len(high))
    cols = [cand_col[c] for c in codes]
    high, bhi, blo, low = map(np.asarray, (high, bhi, blo, low))
    ax.vlines(x, low, high, colors=cols, linewidth=2.1, zorder=4)
    ax.bar(x, np.maximum(bhi - blo, 0.001), bottom=blo, width=0.69, color=cols, linewidth=0, zorder=4.1)
    sky = np.array([c == 'b' for c in codes])
    ax.hlines(blo[sky], x[sky] - .35, x[sky] + .35, colors=PINK, linewidth=1.0, zorder=4.2)
    thin = (bhi - blo) * (ax._ppu) < 2.5
    ax.hlines(blo[thin], x[thin] - .35, x[thin] + .35, colors=[cols[i] for i in np.where(thin)[0]], linewidth=1.6, zorder=4.2)


def setup(ax, ylim, yticks, xlabels, edges, kinds):
    ax.set_xlim(-0.094, 153.3)
    ax.set_ylim(*ylim)
    ax.set_facecolor(BG)
    for a, b, k in zip(edges[:-1], edges[1:], kinds):
        if k != 'g':
            ax.axvspan(a, b, color=band_col[k], linewidth=0, zorder=1)
    ax.yaxis.tick_right()
    ax.set_yticks(yticks)
    ax.set_yticklabels([f'{v:.2f}' for v in yticks], fontfamily=NARROW, fontsize=8 * NS, color='#a0a6aa')
    ax.set_xticks(np.arange(0, 125, 4))
    ax.set_xticklabels(xlabels, fontfamily=NARROW, fontsize=7.7 * NS, color='#a0a6aa', ha='left')
    ax.tick_params(axis='both', length=3, width=1, color='#b0b0b0', pad=3, bottom=True, right=True, left=False, top=False)
    ax.tick_params(axis='x', pad=4)
    for s in ax.spines.values():
        s.set_color('#b0b0b0'); s.set_linewidth(1.0); s.set_visible(True)
    ax.grid(False)
    ax.set_xlabel(''); ax.set_ylabel('')


def hdash(ax, price, color, lw=1.1, a=0, b=146.2, dash=(9.5, 7)):
    ax.hlines(price, a, b, colors=color, linewidth=lw, linestyles=[(0, dash)], zorder=3.2)


def common_marks(ax, dx, dy, upx, upy, wx, wy, white, sky):
    sns.scatterplot(x=dx, y=dy, ax=ax, color=CRIMSON, s=225, linewidth=0, legend=False, zorder=3.8)
    ax.scatter(upx, upy, marker=UP_ARROW, s=300, color='#00ffff', linewidth=0, zorder=4.5)
    ax.scatter(wx, wy, marker=WAVE, s=300, facecolors='none', edgecolors='#00ffff', linewidth=0.9, zorder=4.5)
    for a, b, p in white:
        ax.hlines(p, a, b, colors='white', linewidth=1.6, zorder=4.4)
    for a, b, p in sky:
        ax.hlines(p, a, b, colors='#87c5de', linewidth=1.6, zorder=4.4)


def level_text(ax, names_, vals, cols, off):
    for n, v, c in zip(names_, vals, cols):
        ax.annotate(n, xy=(125.2, v), xytext=(0, -off), textcoords='offset points', va='center', ha='left',
                    fontsize=13, style='italic', color=c, zorder=6, annotation_clip=False)
        ax.annotate(f'{v:.2f}'.replace('.', '·'), xy=(129.05, v), xytext=(0, -off), textcoords='offset points',
                    va='center', ha='left', fontsize=13, style='italic', color=c, zorder=6, annotation_clip=False)


def pinwheel_blue(ax, x, y):
    ax.scatter([x], [y], s=(43*.72)**2, color=PURE, linewidth=0, zorder=4.3)
    ax.scatter([x], [y], s=(43*.72)**2, marker=[(0,.95),(-.9,-.35),(0,.05)], color='#1e90ff', linewidth=0, zorder=4.35)
    ax.scatter([x], [y], s=(43*.72)**2, marker=[(.05,.95),(.85,-.75),(.02,.02),(.05,.95)], facecolors='none', edgecolors='#1e90ff', linewidth=1, zorder=4.35)


def pinwheel_red(ax, x, y):
    ax.scatter([x], [y], marker='s', s=(52*.72)**2 * .9, color='#3d8fc8', linewidth=0, zorder=3.9)
    ax.scatter([x], [y], s=(43*.72)**2, color='#ff0000', linewidth=0, zorder=3.95)
    ax.scatter([x], [y], s=(43*.72)**2, marker=[(.95,.8),(0,.1),(.25,-.3)], color=PINK, linewidth=0, zorder=3.97)
    ax.scatter([x], [y], s=(43*.72)**2, marker=[(-.9,.7),(0,.1),(-.1,-.8),(-.9,.7)], facecolors='none', edgecolors=PINK, linewidth=0.9, zorder=3.97)


def ax_rect(y0, y1):
    return [2 / W, 1 - y1 / H, (2456 - 2) / W, (y1 - y0) / H]

# ---------------------------------------------------------------- figure
fig = plt.figure(figsize=(W / 100, H / 100), dpi=100, facecolor=BG)
ax1 = fig.add_axes(ax_rect(3.3, 1002.3), facecolor=BG)
ax2 = fig.add_axes(ax_rect(1029.3, 2029.3), facecolor=BG)
ax1._ppu = 24.55
ax2._ppu = 8.146

# --- top
setup(ax1, (1531.48, 1572.17), top_yticks, top_xlabels, top_band_edges, top_band_kinds)
for i, c in [(37, '#d48fd0'), (125, '#c8c8c8')]:
    ax1.axvline(i, color=c, linewidth=.8, linestyle=(0, (4, 3)), zorder=1.5)
sline(ax1, top_zig_x, top_zig_y, ZIG, 8.3, 2, solid_capstyle='round')
for xs, ys in [(top_z_x, top_z_y), (top_a_x, top_a_y), (top_b_x, top_b_y), (top_c_x, top_c_y), (top_d_x, top_d_y),
               (top_e_x, top_e_y), (top_u3_x, top_u3_y), (top_u2_x, top_u2_y), (top_u1_x, top_u1_y),
               (top_l1_x, top_l1_y), (top_l2_x, top_l2_y), (top_l3_x, top_l3_y)]:
    sline(ax1, xs, ys, ENV, 1.45, 2.5)
sline(ax1, top_yellow_x, top_yellow_y, GOLD, 3.0, 3)
hdash(ax1, 1554.38, '#ffff00'); hdash(ax1, 1532.5, '#ffff00'); hdash(ax1, 1541.0, '#22cc22')
ax1.hlines(1570.41, 0, 146.2, colors='#ff4500', linewidth=1.1, zorder=3.2)
ax1.hlines(1570.13, 0, 146.2, colors='white', linewidth=1.1, zorder=3.3)
for a, b, k in zip(top_band_edges[:-1], top_band_edges[1:], top_band_kinds):
    a2 = max(a, 36.5)
    if b > a2:
        ax1.hlines(1544.88, a2, b, colors=green_on[k], linewidth=2.2, zorder=3.1)
ax1.hlines(1544.88, 124, 125, colors='#66cc22', linewidth=2.2, zorder=3.1)
pinwheel_blue(ax1, 59, 1532.5)
pinwheel_red(ax1, 124, 1570.27)
candles(ax1, top_high, top_body_hi, top_body_lo, top_low, top_color_runs)
common_marks(ax1, top_dot_x, top_dot_y, top_up_x, top_up_y, top_wave_x, top_wave_y, top_white_dash, top_sky_dash)
ma(ax1, top_slow_x, top_slow_y, top_slow_red, 8.3, 5)
ma(ax1, top_fast_x, top_fast_y, top_fast_red, 3.9, 6)
level_text(ax1, top_levels, top_level_vals, top_level_cols, 7.2)

# --- bottom
setup(ax2, (1453.3, 1576.06), bot_yticks, bot_xlabels, bot_band_edges, bot_band_kinds)
for i, c in [(10, '#c8c8c8'), (33, '#d48fd0'), (56, '#d48fd0'), (79, '#d48fd0'), (102, '#c8c8c8'), (125, '#c8c8c8')]:
    ax2.axvline(i, color=c, linewidth=.8, linestyle=(0, (4, 3)), zorder=1.5)
sline(ax2, bot_zig_x, bot_zig_y, ZIG, 8.3, 2, solid_capstyle='round', solid_joinstyle='round')
for xs, ys in [(bot_p_x, bot_p_y), (bot_q_x, bot_q_y), (bot_a_x, bot_a_y), (bot_b_x, bot_b_y), (bot_c_x, bot_c_y), (bot_d_x, bot_d_y),
               (bot_c1_x, bot_c1_y), (bot_c2_x, bot_c2_y), (bot_c3_x, bot_c3_y), (bot_c4_x, bot_c4_y), (bot_c5_x, bot_c5_y),
               (bot_l1_x, bot_l1_y), (bot_l2_x, bot_l2_y), (bot_l3_x, bot_l3_y), (bot_l4_x, bot_l4_y), (bot_l5_x, bot_l5_y),
               (bot_l6_x, bot_l6_y), (bot_l7_x, bot_l7_y)]:
    sline(ax2, xs, ys, ENV, 1.45, 2.5)
sline(ax2, bot_yellow_x, bot_yellow_y, GOLD, 3.0, 3)
hdash(ax2, 1554.33, '#ffff00', lw=1.4); hdash(ax2, 1532.6, '#ffff00', lw=1.4); hdash(ax2, 1541.07, '#22cc22', lw=1.4)
hdash(ax2, 1503.13, 'white', lw=1.5); hdash(ax2, 1456.2, 'white', lw=1.5)
ax2.hlines(1570.13, 0, 146.2, colors='white', linewidth=1.1, zorder=3.3)
for a, b, k in zip(bot_band_edges[:-1], bot_band_edges[1:], bot_band_kinds):
    a2 = max(a, 101)
    if b > a2:
        ax2.hlines(1544.88, a2, b, colors=green_on[k], linewidth=2.2, zorder=3.1)
ax2.hlines(1544.88, 124, 125, colors='#66cc22', linewidth=2.2, zorder=3.1)
pinwheel_blue(ax2, 5, 1456.9)
pinwheel_red(ax2, 124, 1570.5)
candles(ax2, bot_high, bot_body_hi, bot_body_lo, bot_low, bot_color_runs)
common_marks(ax2, bot_dot_x, bot_dot_y, bot_up_x, bot_up_y, bot_wave_x, bot_wave_y, bot_white_dash, bot_sky_dash)
ax2.scatter(bot_down_x, bot_down_y, marker=DOWN_ARROW, s=300, color=PINK, linewidth=0, zorder=4.5)
ma(ax2, bot_slow_x, bot_slow_y, bot_slow_red, 9.6, 5)
ma(ax2, bot_fast_x, bot_fast_y, bot_fast_red, 3.9, 6)
level_text(ax2, bot_levels, bot_level_vals, bot_level_cols, 8.6)

# ---------------------------------------------------------------- overlay in pixels
ov = fig.add_axes([0, 0, 1, 1], facecolor='none', zorder=10)
ov.set_xlim(0, W); ov.set_ylim(H, 0); ov.axis('off')


def rect(x0, y0, x1, y1, fc, ec='none', lw=0, z=1):
    ov.add_patch(Rectangle((x0, y0), x1 - x0, y1 - y0, facecolor=fc, edgecolor=ec, linewidth=lw, zorder=z))


def txt(x, y, s, color='white', size=10, weight='normal', family=SANS, ha='center', va='center', z=3):
    ov.text(x, y, s, color=color, fontsize=size, fontweight=weight, fontfamily=family, ha=ha, va=va, zorder=z)

ov.plot([0, W], [1024, 1024], color='#e8e8e8', linewidth=1.6, zorder=1)

for dy, tf, mark_sym, mark_per in [(0, 'US2000,M15', 'US2000', '15'), (1026.7, 'US2000,H1', 'US2000', 'H1')]:
    for x0, x1, s in [(80, 235, 'HONG KONG  18:59'), (237, 369, 'LONDON   11:59'), (371, 520, 'NEW YORK  06:59')]:
        rect(x0, dy + 5.3, x1, dy + 21.3, '#8b2020')
        txt((x0 + x1) / 2, dy + 13.6, s, size=10.5, weight='bold')
    txt(18, dy + 11.5, tf, color='#8f989e', size=7.6 * NS, family=NARROW, ha='left')
    ov.scatter([9], [dy + 11.5], marker='v', s=22, color='#9aa0a4', linewidth=0, zorder=3)
    ov.scatter([2017], [dy + 6], marker='v', s=55, color='white', linewidth=0, zorder=3)
    rect(2352, dy + 14, 2447, dy + 248, '#1e2a38', ec='#e8f0f0', lw=1.2)
    txt(2399, dy + 33, 'US2000', size=18 * (NS + .05), weight='bold', family=NARROW)
    txt(2399, dy + 57, '1570.1', color='#00ffff', size=17, weight='bold')
    txt(2437, dy + 75, 'SPD:3.0', size=10.6, weight='bold', family=MONO, ha='right')
    txt(2437, dy + 91, '0:6', color='#00ffff', size=12, weight='bold', family=MONO, ha='right')
    txt(2399, dy + 107, 'Daily Open', size=10.5, weight='bold')
    txt(2399, dy + 125, '1544.9', color='#00ff00', size=14, weight='bold')
    for k, (a, b, ca, cb) in enumerate(zip(info_labels, info_values, info_label_cols, info_value_cols)):
        y = dy + [144, 161, 177, 193, 208][k]
        txt(2398, y, a, color=ca, size=10, ha='right')
        txt(2413, y, b, color=cb, size=10, weight='bold', ha='left')
    txt(2400, dy + 230, '90%', color='#00ff00', size=14.5, weight='bold')
    txt(2428, dy + 225, 'ADR', size=7.4, weight='bold')
    for k, s in enumerate(symbols):
        rect(2351, dy + 259 + 19 * k, 2421, dy + 275 + 19 * k, '#222222')
        txt(2386, dy + 267.5 + 19 * k, s, color='#00e5ee' if s == mark_sym else '#d8d8d8', size=9.4)
    for k, s in enumerate(periods):
        rect(2424, dy + 259 + 19 * k, 2448, dy + 275 + 19 * k, '#222222')
        txt(2436, dy + 267.5 + 19 * k, s, color='#00e5ee' if s == mark_per else '#d8d8d8', size=9.4)

for y0, y1 in [(977, 1002), (2005, 2029)]:
    rect(3, y0, 171, y1, '#008000')
    txt(87, (y0 + y1) / 2 + .5, 'UP TREND', color='#c0c0c0', size=15.5, weight='bold')
    txt(176, (y0 + y1) / 2 + 4, 'lixe', color='#c8c8c8', size=6, family=NARROW, ha='left')
for y0, y1 in [(976, 1002), (2003, 2029)]:
    rect(553, y0, 639, y1, '#8b0000')
    txt(596, (y0 + y1) / 2, 'ZIGZAG on', size=13 * NS, weight='bold', family=NARROW)
rect(8, 1977, 46, 2000, '#141414', ec='#6a6a6a', lw=1)
txt(27, 1988.5, 'ON', color='#8a8a8a', size=10 * NS, family=NARROW)

for s, y in zip(top_fib_txt, top_fib_px):
    txt(2197, y, s, color='#f2f2f2', size=11.7, weight='bold', family=MONO)
for s, y in zip(bot_fib_txt, bot_fib_px):
    txt(2197, y, s, color='#f2f2f2', size=11.7, weight='bold', family=MONO)
for ys in [{'BUY': 553, 'OPEN UP': 685, 'SELL': 814, 'yClose': 686, 'yHigh': 452, 'yLow': 905},
           {'BUY': 1251, 'OPEN UP': 1294, 'SELL': 1337, 'yClose': 1294, 'yHigh': 1217, 'yLow': 1368}]:
    txt(2197, ys['BUY'], 'BUY', color='#00ffff', size=11.7, weight='bold', family=MONO)
    txt(2197, ys['OPEN UP'], 'OPEN UP', color='#00ff00', size=11.7, weight='bold', family=MONO)
    txt(2197, ys['SELL'], 'SELL', color='#e8609f', size=11.7, weight='bold', family=MONO)
    txt(2272, ys['yClose'], 'yClose', color='#ff9a00', size=11.7, weight='bold', family=MONO)
    txt(2272, ys['yHigh'], 'yHigh', color='#00ffff', size=11.7, weight='bold', family=MONO)
    txt(2272, ys['yLow'], 'yLow', color='#00ffff', size=11.7, weight='bold', family=MONO)

rect(2459, 41, 2498, 49, '#ff4500'); txt(2478.5, 45, '1570.43', color='#7a3a20', size=8 * NS, family=NARROW)
rect(2459, 49, 2498, 59, '#a8a8a8'); txt(2478.5, 54, '1570.13', color='#666666', size=8 * NS, family=NARROW)
rect(2459, 1072, 2498, 1083, '#a8a8a8'); txt(2478.5, 1077.5, '1570.13', color='#666666', size=8 * NS, family=NARROW)

fig.savefig('out.png', dpi=100, facecolor=BG)
